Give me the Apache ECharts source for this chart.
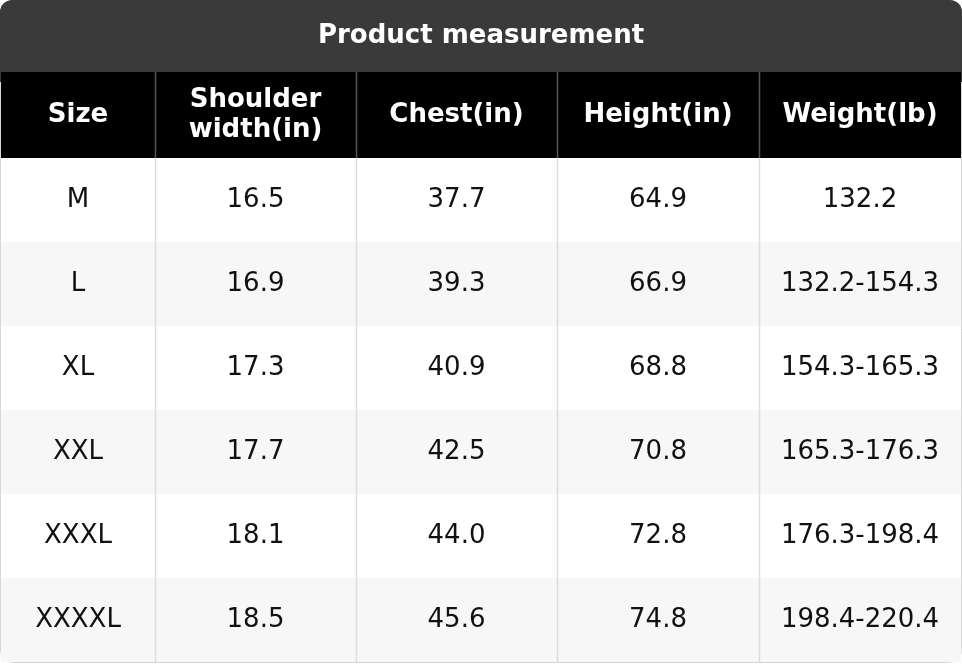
<!DOCTYPE html>
<html><head><meta charset="utf-8">
<script src="https://cdn.jsdelivr.net/npm/echarts@6/dist/echarts.min.js"></script>
<style>html,body{margin:0;padding:0;background:#fff}#c{width:962px;height:664px}</style>
</head><body><div id="c"></div>
<script>
const title = 'Product measurement';
const headers = ['Size', 'Shoulder\nwidth(in)', 'Chest(in)', 'Height(in)', 'Weight(lb)'];
const sizes = ['M', 'L', 'XL', 'XXL', 'XXXL', 'XXXXL'];
const shoulder = ['16.5', '16.9', '17.3', '17.7', '18.1', '18.5'];
const chest = ['37.7', '39.3', '40.9', '42.5', '44.0', '45.6'];
const height = ['64.9', '66.9', '68.8', '70.8', '72.8', '74.8'];
const weight = ['132.2', '132.2-154.3', '154.3-165.3', '165.3-176.3', '176.3-198.4', '198.4-220.4'];

// layout
const colEdges = [1, 155, 356, 557, 759, 961];
const titleH = 72, headH = 86, rowH = 84, top0 = titleH + headH;
const F = 'DejaVu Sans';

const columns = [sizes, shoulder, chest, height, weight];
const data = [];
headers.forEach((h, c) => data.push([c, -1, h]));
sizes.forEach((s, r) => columns.forEach((col, c) => data.push([c, r, col[r]])));

const chart = echarts.init(document.getElementById('c'), null, {renderer: 'canvas'});
chart.setOption({
  animation: false,
  graphic: [
    {type: 'rect', shape: {x: 0.5, y: 0.5, width: 961, height: 662, r: 12}, style: {fill: '#fff', stroke: '#d6d6d6', lineWidth: 1}, z: 0},
    {type: 'rect', shape: {x: 0, y: 0, width: 962, height: titleH + 10, r: [12, 12, 0, 0]}, style: {fill: '#3a3a3a'}, z: 1},
    {type: 'text', x: 481, y: titleH / 2, style: {text: title, fill: '#fff', font: 'bold 26px "' + F + '"', align: 'center', verticalAlign: 'middle'}, z: 5}
  ],
  series: [{
    type: 'custom', coordinateSystem: 'none', data: data, z: 3,
    renderItem: function (params, api) {
      const c = api.value(0), r = api.value(1), txt = data[params.dataIndex][2];
      const x0 = colEdges[c], x1 = colEdges[c + 1];
      const isHead = r < 0;
      const y0 = isHead ? titleH : top0 + r * rowH;
      const h = isHead ? headH : rowH;
      const fill = isHead ? '#000' : (r % 2 === 1 ? '#f7f7f7' : '#fff');
      const children = [
        {type: 'rect', shape: {x: x0, y: y0, width: x1 - x0, height: h}, style: {fill: fill}},
        {type: 'text', x: (x0 + x1) / 2, y: y0 + h / 2, style: {text: txt, fill: isHead ? '#fff' : '#111',
          font: (isHead ? 'bold ' : '') + '26px "' + F + '"', lineHeight: 30, align: 'center', verticalAlign: 'middle'}}
      ];
      if (c > 0) children.push({type: 'line', shape: {x1: x0 + 0.5, y1: y0, x2: x0 + 0.5, y2: y0 + h},
        style: {stroke: isHead ? '#555' : '#dcdcdc', lineWidth: 1.5}});
      return {type: 'group', children: children};
    }
  }]
});
</script></body></html>
